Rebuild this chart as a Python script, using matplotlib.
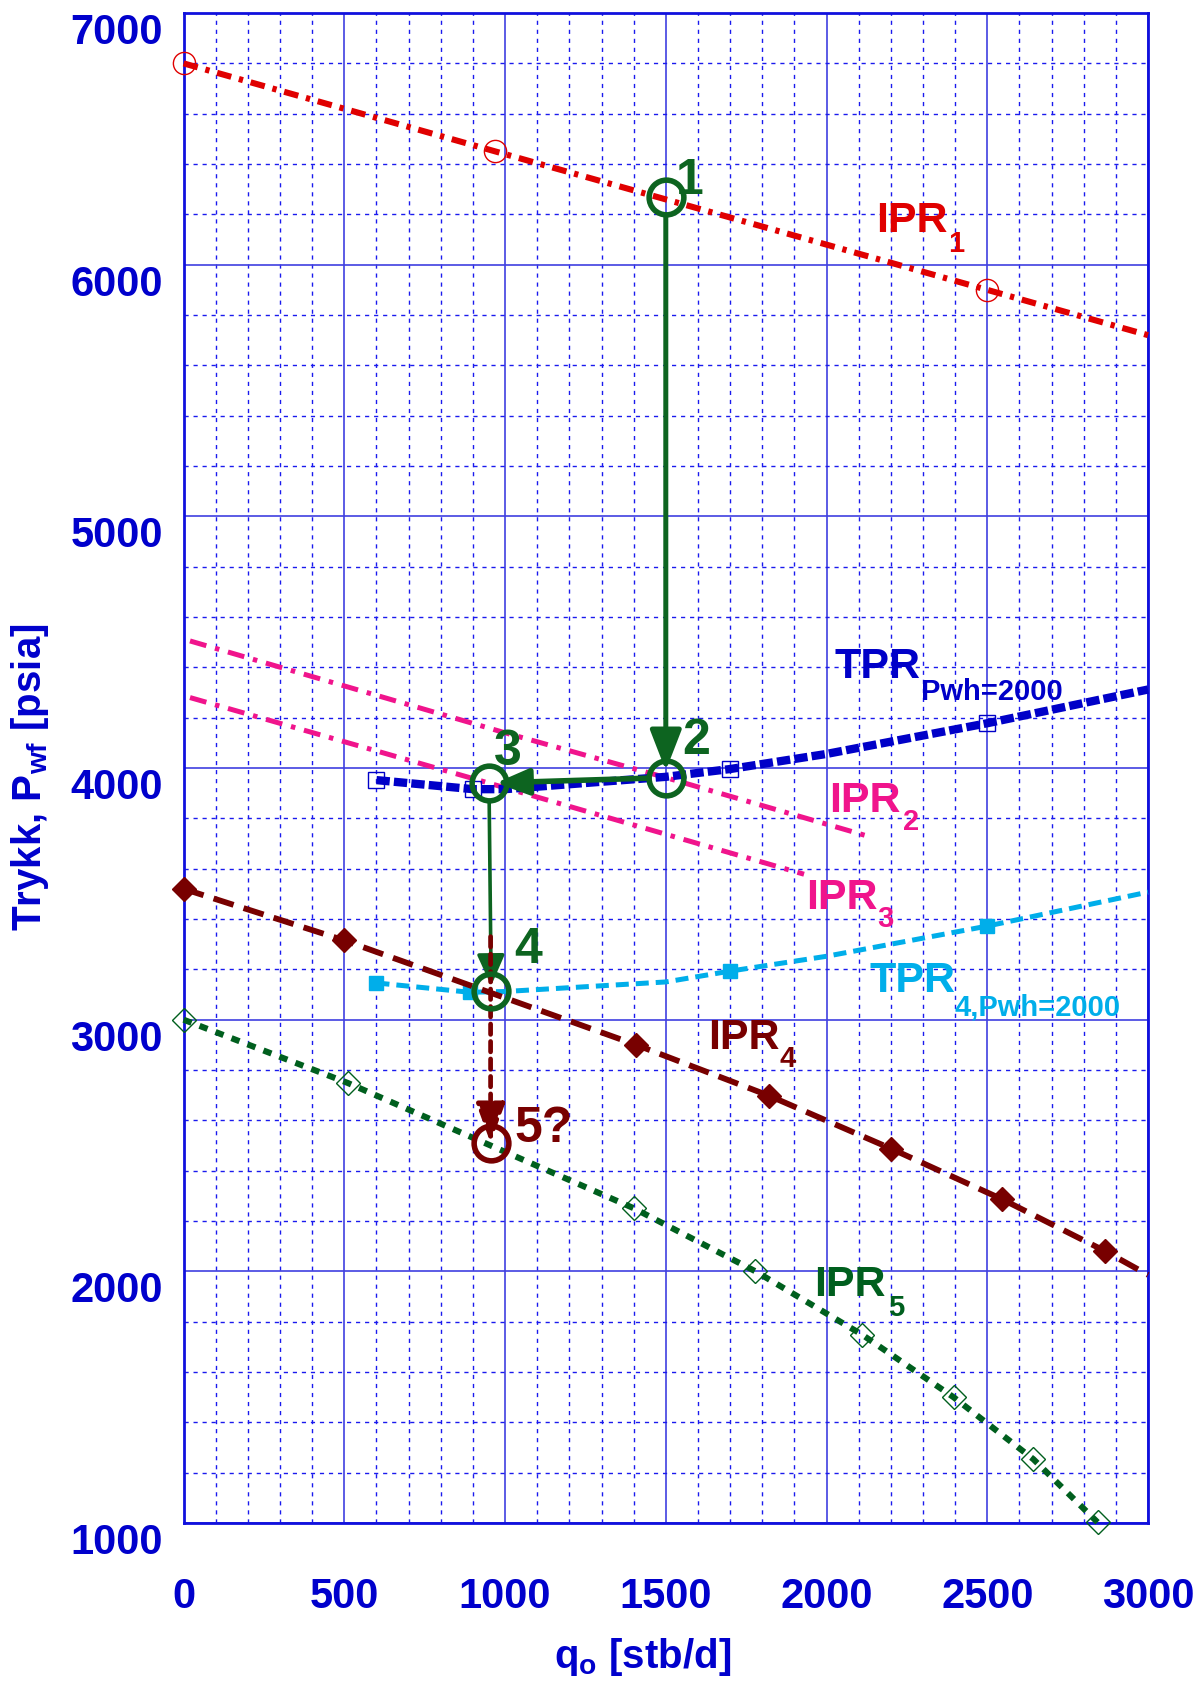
import matplotlib
matplotlib.use('Agg')
import matplotlib.pyplot as plt
from matplotlib import font_manager as fm
from matplotlib.patches import ArrowStyle

available = {f.name for f in fm.fontManager.ttflist}
NARROW = 'Liberation Sans Narrow' if 'Liberation Sans Narrow' in available else 'Liberation Sans'
SANS = 'Liberation Sans' if 'Liberation Sans' in available else 'DejaVu Sans'
TICK_FS = 32 if NARROW == 'Liberation Sans Narrow' else 30
LABEL_FS = 32 if NARROW == 'Liberation Sans Narrow' else 29

plt.rcParams['font.family'] = [SANS, 'DejaVu Sans']
plt.rcParams['mathtext.fontset'] = 'custom'
plt.rcParams['mathtext.rm'] = f'{NARROW}:bold'
plt.rcParams['mathtext.bf'] = f'{NARROW}:bold'
plt.rcParams['mathtext.it'] = f'{NARROW}:bold'
plt.rcParams['mathtext.sf'] = f'{NARROW}:bold'

# ---------------- data ----------------
x_ticks = [0, 500, 1000, 1500, 2000, 2500, 3000]
x_tick_labels = ['0', '500', '1000', '1500', '2000', '2500', '3000']
y_ticks = [1000, 2000, 3000, 4000, 5000, 6000, 7000]
y_tick_labels = ['1000', '2000', '3000', '4000', '5000', '6000', '7000']

ipr1_q = [0, 970, 2500, 3000]
ipr1_p = [6800, 6450, 5900, 5720]
ipr1_markers = [0, 1, 2]

tpr_q = [600, 900, 1000, 1500, 1700, 2000, 2500, 3000]
tpr_p = [3952, 3916, 3916, 3965, 3996, 4056, 4178, 4312]
tpr_markers = [0, 1, 4, 6]

ipr2_q = [20, 1000, 1500, 2140]
ipr2_p = [4505, 4140, 3962, 3725]

ipr3_q = [20, 950, 1930]
ipr3_p = [4280, 3940, 3578]

tpr4_q = [600, 890, 1000, 1500, 1700, 2000, 2500, 3000]
tpr4_p = [3146, 3109, 3112, 3150, 3193, 3252, 3372, 3507]
tpr4_markers = [0, 1, 4, 6]

ipr4_q = [0, 500, 1408, 1821, 2200, 2547, 2867, 3000]
ipr4_p = [3520, 3315, 2900, 2698, 2488, 2286, 2080, 1986]
ipr4_markers = [0, 1, 2, 3, 4, 5, 6]

ipr5_q = [0, 510, 1400, 1779, 2110, 2395, 2643, 2843]
ipr5_p = [3000, 2749, 2251, 2000, 1749, 1500, 1254, 1003]

op_labels = ['1', '2', '3', '4', '5?']
op_q = [1500, 1500, 950, 957, 955]
op_p = [6270, 3962, 3940, 3113, 2510]
op_label_q = [1576, 1596, 1008, 1072, 1119]
op_label_p = [6333, 4107, 4064, 3275, 2567]
drop_start_p = 3330

curve_texts = ['IPR', 'TPR', 'IPR', 'IPR', 'TPR', 'IPR', 'IPR']
curve_subs = ['1', 'Pwh=2000', '2', '3', '4,Pwh=2000', '4', '5']
curve_text_q = [2153, 2026, 2009, 1935, 2133, 1633, 1962]
curve_text_p = [6129, 4356, 3824, 3438, 3112, 2884, 1901]
curve_sub_q = [2378, 2294, 2237, 2157, 2399, 1854, 2190]
curve_sub_p = [6052, 4270, 3755, 3369, 3017, 2811, 1824]

# ---------------- style ----------------
BLUE = '#0000cc'
RED = '#e00000'
DBLUE = '#0000c8'
PINK = '#f0148c'
CYAN = '#00aeea'
MAROON = '#780000'
GREEN5 = '#005f1e'
GREEN = '#0d6420'
curve_colors = [RED, DBLUE, PINK, PINK, CYAN, MAROON, GREEN5]

fig = plt.figure(figsize=(12.03, 16.93), dpi=100)
ax = fig.add_axes([0.1526, 0.1004, 0.8017, 0.8919])
ax.set_xlim(0, 3000)
ax.set_ylim(1000, 7000)

ax.set_xticks(x_ticks)
ax.set_xticks(range(0, 3001, 100), minor=True)
ax.set_yticks(y_ticks)
ax.set_yticks(range(1000, 7001, 200), minor=True)
ax.set_xticklabels(x_tick_labels, fontfamily=NARROW, fontweight='bold', fontsize=TICK_FS, color=BLUE)
ax.set_yticklabels(y_tick_labels, fontfamily=NARROW, fontweight='bold', fontsize=TICK_FS, color=BLUE, va='top')
ax.tick_params(which='both', length=0)
ax.tick_params(axis='x', pad=39)
ax.tick_params(axis='y', pad=15)

ax.grid(which='major', color='#4040e0', lw=1.2, ls='-')
ax.grid(which='minor', color='#1a1aee', lw=1.0, ls=(0, (3, 3.5)))
ax.set_axisbelow(True)
for s in ax.spines.values():
    s.set_color('#1010dd')
    s.set_linewidth(2)

common = dict(clip_on=False, dash_capstyle='butt')

ax.plot(ipr1_q, ipr1_p, color=RED, lw=4.4, ls=(0, (2.4, 1.3, 0.7, 1.3)),
        marker='o', ms=16, mfc='none', mec=RED, mew=1.0, markevery=ipr1_markers, zorder=3, **common)
ax.plot(ipr2_q, ipr2_p, color=PINK, lw=3.6, ls=(0, (3.4, 1.8, 0.9, 1.8)), zorder=3, **common)
ax.plot(ipr3_q, ipr3_p, color=PINK, lw=3.6, ls=(0, (3.4, 1.8, 0.9, 1.8)), zorder=3, **common)
ax.plot(tpr_q, tpr_p, color=DBLUE, lw=6.0, ls=(0, (1.6, 0.5)),
        marker='s', ms=12, mfc='none', mec=DBLUE, mew=1.0, markevery=tpr_markers, zorder=3, **common)
ax.plot(tpr4_q, tpr4_p, color=CYAN, lw=3.6, ls=(0, (2.6, 1.4)),
        marker='s', ms=10, mfc=CYAN, mec=CYAN, mew=1.0, markevery=tpr4_markers, zorder=3, **common)
ax.plot(ipr4_q, ipr4_p, color=MAROON, lw=4.2, ls=(0, (3.6, 1.8)),
        marker='D', ms=12.5, mfc=MAROON, mec=MAROON, mew=1.0, markevery=ipr4_markers, zorder=3, **common)
ax.plot(ipr5_q, ipr5_p, color=GREEN5, lw=4.4, ls=(0, (1.4, 1.4)),
        marker='D', ms=12, mfc='none', mec=GREEN5, mew=1.0, zorder=3, **common)


def arrow(start, end, color, lw, hl, hw, shrinkA, shrinkB, ls='-'):
    ax.annotate('', xy=end, xytext=start, zorder=5,
                arrowprops=dict(arrowstyle=ArrowStyle('-|>', head_length=hl, head_width=hw),
                                color=color, lw=lw, ls=ls, shrinkA=shrinkA, shrinkB=shrinkB,
                                mutation_scale=10))


arrow((op_q[0], op_p[0]), (op_q[1], op_p[1]), GREEN, 3.6, 2.5, 0.97, 13, 5)
arrow((op_q[1], op_p[1]), (op_q[2], op_p[2]), GREEN, 4.0, 2.0, 0.8, 13, 5)
arrow((op_q[2], op_p[2]), (op_q[3], op_p[3]), GREEN, 2.6, 1.9, 0.85, 13, 4)
arrow((op_q[4], drop_start_p), (op_q[4], op_p[4]), MAROON, 3.4, 2.4, 0.88, 0, 0, ls=(0, (2.2, 1.5)))

for i in range(len(op_q)):
    c = MAROON if i == 4 else GREEN
    ax.plot(op_q[i], op_p[i], 'o', ms=25, mfc='none', mec=c, mew=4.0, zorder=6, clip_on=False)
    ax.text(op_label_q[i], op_label_p[i], op_labels[i], color=c, fontsize=36, fontweight='bold',
            ha='center', va='center', zorder=7)

for t, s, tq, tp, sq, sp, c in zip(curve_texts, curve_subs, curve_text_q, curve_text_p,
                                   curve_sub_q, curve_sub_p, curve_colors):
    ax.text(tq, tp, t, color=c, fontsize=31, fontweight='bold', ha='left', va='baseline', zorder=7)
    ax.text(sq, sp, s, color=c, fontsize=21, fontweight='bold', ha='left', va='baseline', zorder=7)

ax.set_ylabel(r'Trykk, P$_{\mathbf{wf}}$ [psia]', fontfamily=NARROW, fontweight='bold',
              fontsize=LABEL_FS, color=BLUE)
ax.yaxis.set_label_coords(-0.137, 0.494)
ax.set_xlabel(r'q$_{\mathbf{o}}$ [stb/d]', fontfamily=NARROW, fontweight='bold',
              fontsize=LABEL_FS, color=BLUE)
ax.xaxis.set_label_coords(0.476, -0.075)

fig.savefig('out.png', dpi=100)
